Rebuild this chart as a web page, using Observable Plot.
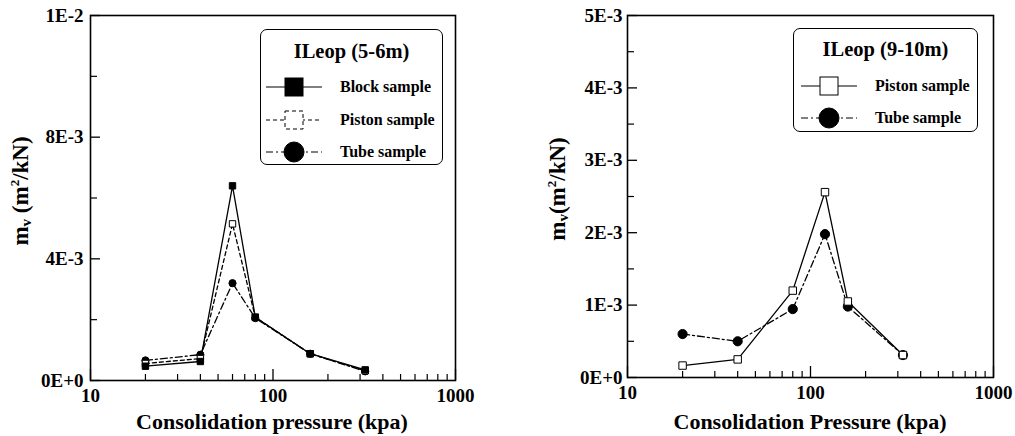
<!DOCTYPE html>
<html><head><meta charset="utf-8">
<script src="https://cdn.jsdelivr.net/npm/d3@7"></script>
<script src="https://cdn.jsdelivr.net/npm/@observablehq/plot@0.6"></script>
<style>
body{margin:0;background:#fff;overflow:hidden;}
#wrap{position:relative;width:1015px;height:436px;font-family:"Liberation Serif","Times New Roman",serif;font-weight:bold;color:#000;}
#wrap .panel svg text, #wrap .panel svg g{font-weight:bold !important;font-size:19px !important;font-family:"Liberation Serif","Times New Roman",serif !important;}
.panel{position:absolute;top:0;}
.lbl{position:absolute;white-space:nowrap;font-size:22px;line-height:24px;transform:translate(-50%,-50%);}
.ylbl{transform:translate(-50%,-50%) rotate(-90deg);font-size:23px;}
.lbl sub{font-size:15px;vertical-align:-3px;line-height:0;}
.lbl sup{font-size:13px;vertical-align:9px;line-height:0;}
.legend{position:absolute;border:1.5px solid #000;border-radius:7px;box-sizing:border-box;background:#fff;}
.legend .title{position:absolute;left:0;right:0;text-align:center;font-size:20.5px;line-height:24px;}
.legend .row{position:absolute;font-size:16px;line-height:20px;white-space:nowrap;}
.legend svg{position:absolute;overflow:visible;}
</style></head>
<body><div id="wrap"></div>
<script>
// ---- data ----
const leftX = [20, 40, 60, 80, 160, 320];
const blockY = [0.00047, 0.000625, 0.0064, 0.00208, 0.00088, 0.00035];
const pistonLeftY = [0.00056, 0.00072, 0.00515, 0.00208, 0.00088, 0.00032];
const tubeLeftY = [0.00066, 0.00085, 0.0032, 0.00205, 0.00088, 0.0003];

const rightX = [20, 40, 80, 120, 160, 320];
const pistonRightY = [0.000165, 0.00025, 0.0012, 0.00256, 0.00105, 0.00031];
const tubeRightY = [0.0006, 0.0005, 0.000945, 0.00198, 0.00098, 0.00031];

const xTicks = [10, 100, 1000];
const xTickLabels = ["10", "100", "1000"];
const xMinor = [20, 30, 40, 50, 60, 70, 80, 90, 200, 300, 400, 500, 600, 700, 800, 900];

const leftYTicks = [0, 0.004, 0.008, 0.012];
const leftYTickLabels = ["0E+0", "4E-3", "8E-3", "1E-2"];
const leftYMinor = [0.002, 0.006, 0.010];

const rightYTicks = [0, 0.001, 0.002, 0.003, 0.004, 0.005];
const rightYTickLabels = ["0E+0", "1E-3", "2E-3", "3E-3", "4E-3", "5E-3"];
const rightYMinor = [0.0005, 0.0015, 0.0025, 0.0035, 0.0045];

const leftTitle = "ILeop (5-6m)";
const rightTitle = "ILeop (9-10m)";
const leftXLabel = "Consolidation pressure (kpa)";
const rightXLabel = "Consolidation Pressure (kpa)";

// ---- helpers ----
const rows = (xs, ys) => xs.map((x, i) => ({x, y: ys[i]}));

function panel(cfg) {
  const innerW = cfg.width - cfg.ml - cfg.mr;
  const innerH = 436 - cfg.mt - cfg.mb;
  const marks = [
    Plot.tickX(xMinor, {x: d => d, insetTop: innerH - 6, strokeWidth: 1.2}),
    Plot.tickX(xTicks, {x: d => d, insetTop: innerH - 11, strokeWidth: 1.3}),
    Plot.tickY(cfg.yMinor, {y: d => d, insetRight: innerW - 7, strokeWidth: 1.2}),
    Plot.tickY(cfg.yTicks, {y: d => d, insetRight: innerW - 10, strokeWidth: 1.3}),
    Plot.frame({stroke: "black", strokeWidth: 1.6})
  ];
  for (const s of cfg.series) {
    marks.push(Plot.line(s.data, {x: "x", y: "y", stroke: "black", strokeWidth: 1.3, strokeDasharray: s.dash}));
  }
  for (const s of cfg.series) {
    marks.push(Plot.dot(s.data, {x: "x", y: "y", symbol: s.symbol, r: s.r,
      fill: s.open ? "white" : "black", stroke: "black", strokeWidth: 1}));
  }
  return Plot.plot({
    width: cfg.width, height: 436,
    marginLeft: cfg.ml, marginRight: cfg.mr, marginTop: cfg.mt, marginBottom: cfg.mb,
    style: {fontFamily: '"Liberation Serif","Times New Roman",serif', fontSize: "19px", fontWeight: "bold", background: "white", color: "black"},
    x: {type: "log", domain: [10, 1000], ticks: xTicks, tickSize: 0, tickPadding: 8,
        tickFormat: d => xTickLabels[xTicks.indexOf(d)], label: null},
    y: {domain: cfg.yDomain, ticks: cfg.yTicks, tickSize: 0, tickPadding: cfg.yPad,
        tickFormat: d => cfg.yLabels[cfg.yTicks.indexOf(d)], label: null},
    marks
  });
}

const wrap = document.getElementById("wrap");

const leftSeries = [
  {name: "Tube sample", data: rows(leftX, tubeLeftY), dash: "7,3,2,3", symbol: "circle", r: 3.6, open: false},
  {name: "Piston sample", data: rows(leftX, pistonLeftY), dash: "4,3", symbol: "square", r: 3.6, open: true},
  {name: "Block sample", data: rows(leftX, blockY), dash: null, symbol: "square", r: 3.6, open: false}
];
const rightSeries = [
  {name: "Tube sample", data: rows(rightX, tubeRightY), dash: "7,3,2,3", symbol: "circle", r: 4.6, open: false},
  {name: "Piston sample", data: rows(rightX, pistonRightY), dash: null, symbol: "square", r: 4.2, open: true}
];

const p1 = panel({width: 500, ml: 90, mr: 45, mt: 15, mb: 56, yDomain: [0, 0.012],
  yTicks: leftYTicks, yLabels: leftYTickLabels, yMinor: leftYMinor, yPad: 7, series: leftSeries});
const p2 = panel({width: 515, ml: 127, mr: 22, mt: 15, mb: 59, yDomain: [0, 0.005],
  yTicks: rightYTicks, yLabels: rightYTickLabels, yMinor: rightYMinor, yPad: 5, series: rightSeries});

const d1 = document.createElement("div"); d1.className = "panel"; d1.style.left = "0px"; d1.appendChild(p1); wrap.appendChild(d1);
const d2 = document.createElement("div"); d2.className = "panel"; d2.style.left = "500px"; d2.appendChild(p2); wrap.appendChild(d2);

function label(html, x, y, cls) {
  const el = document.createElement("div");
  el.className = "lbl" + (cls ? " " + cls : "");
  el.style.left = x + "px"; el.style.top = y + "px";
  el.innerHTML = html;
  wrap.appendChild(el);
}
label(leftXLabel, 272, 422);
label(rightXLabel, 810, 422);
label("m<sub>v</sub> (m<sup>2</sup>/kN)", 21, 191, "ylbl");
label("m<sub>v</sub>(m<sup>2</sup>/kN)", 558, 189, "ylbl");

function legend(box, title, items) {
  const lg = document.createElement("div");
  lg.className = "legend";
  Object.assign(lg.style, {left: box.x + "px", top: box.y + "px", width: box.w + "px", height: box.h + "px"});
  const t = document.createElement("div");
  t.className = "title"; t.style.top = (box.titleY - 12) + "px"; t.textContent = title;
  lg.appendChild(t);
  items.forEach((it, i) => {
    const cy = box.rowY[i];
    const ns = "http://www.w3.org/2000/svg";
    const svg = document.createElementNS(ns, "svg");
    svg.setAttribute("width", box.lineW); svg.setAttribute("height", 24);
    svg.style.left = box.lineX + "px"; svg.style.top = (cy - 12) + "px";
    const ln = document.createElementNS(ns, "line");
    ln.setAttribute("x1", 0); ln.setAttribute("x2", box.lineW); ln.setAttribute("y1", 12); ln.setAttribute("y2", 12);
    ln.setAttribute("stroke", "black"); ln.setAttribute("stroke-width", 1.2);
    if (it.dash) ln.setAttribute("stroke-dasharray", it.dash);
    svg.appendChild(ln);
    const m = box.lineW / 2;
    let mk;
    if (it.symbol === "square") {
      mk = document.createElementNS(ns, "rect");
      const s = box.sq;
      mk.setAttribute("x", m - s / 2); mk.setAttribute("y", 12 - s / 2);
      mk.setAttribute("width", s); mk.setAttribute("height", s);
    } else {
      mk = document.createElementNS(ns, "circle");
      mk.setAttribute("cx", m); mk.setAttribute("cy", 12); mk.setAttribute("r", box.cr);
    }
    mk.setAttribute("fill", it.open ? "white" : "black");
    mk.setAttribute("stroke", "black"); mk.setAttribute("stroke-width", 1);
    if (it.open && it.dash) mk.setAttribute("stroke-dasharray", "4,3");
    svg.appendChild(mk);
    lg.appendChild(svg);
    const r = document.createElement("div");
    r.className = "row"; r.style.left = box.textX + "px"; r.style.top = (cy - 10) + "px";
    r.textContent = it.name;
    lg.appendChild(r);
  });
  wrap.appendChild(lg);
}

legend({x: 260, y: 29, w: 183, h: 136, titleY: 21, rowY: [57, 90, 122], lineX: 5, lineW: 56, textX: 79, sq: 18, cr: 10},
  leftTitle, [leftSeries[2], leftSeries[1], leftSeries[0]]);
legend({x: 793, y: 28, w: 185, h: 104, titleY: 20, rowY: [57, 89], lineX: 7, lineW: 56, textX: 81, sq: 18, cr: 10},
  rightTitle, [rightSeries[1], rightSeries[0]]);
</script>
</body></html>
